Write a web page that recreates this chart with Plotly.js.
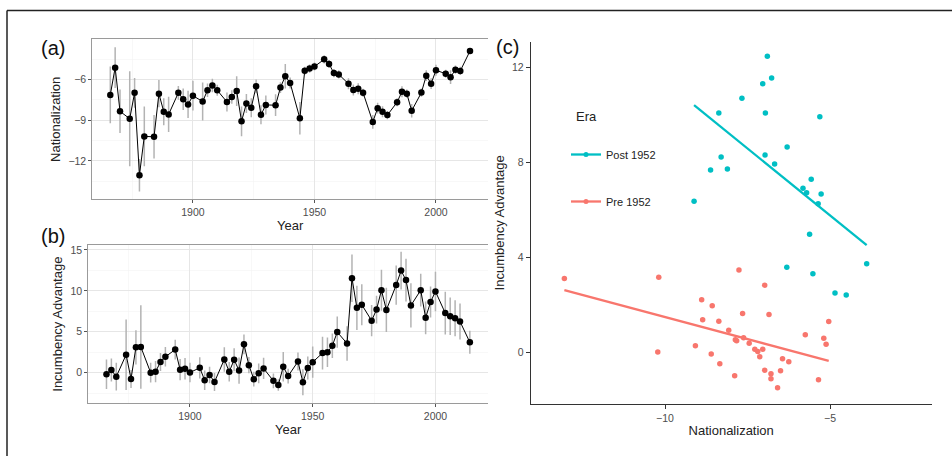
<!DOCTYPE html>
<html>
<head>
<meta charset="utf-8">
<script src="https://cdn.plot.ly/plotly-3.0.1.min.js"></script>
<style>html,body{margin:0;padding:0;background:#fff;}#chart{width:952px;height:456px;}</style>
</head>
<body>
<div id="chart"></div>
<script>
// ---- data ----
const years = [1866,1868,1870,1874,1876,1878,1880,1884,1886,1888,1890,1894,1896,1898,1900,
  1904,1906,1908,1910,1914,1916,1918,1920,1922,1924,1926,1928,1930,1934,1936,1938,1940,
  1944,1946,1948,1950,1954,1956,1958,1960,1964,1966,1968,1970,1974,1976,1978,1980,
  1984,1986,1988,1990,1994,1996,1998,2000,2004,2006,2008,2010,2014];

const nationalization = [-7.13,-5.12,-8.34,-8.89,-6.98,-13.05,-10.19,-10.22,-7.04,-8.37,-8.57,-6.98,-7.45,-7.83,-7.19,
  -7.62,-6.79,-6.44,-6.79,-7.65,-7.28,-6.85,-9.08,-7.76,-8.07,-6.50,-8.60,-7.87,-7.89,-6.59,-5.75,-6.25,
  -8.86,-5.35,-5.19,-5.04,-4.51,-4.85,-5.52,-5.62,-6.31,-6.77,-6.68,-6.97,-9.12,-8.11,-8.37,-8.62,
  -7.67,-6.90,-7.04,-8.30,-6.96,-5.71,-6.30,-5.31,-5.57,-5.82,-5.27,-5.36,-3.89];

const nationalizationErr = [2.1,1.5,1.6,3.5,1.1,1.2,2.2,1.6,1.0,1.0,1.3,0.5,0.8,1.0,1.1,
  1.4,0.5,0.5,0.4,0.7,0.5,1.1,1.1,0.7,0.7,0.5,0.7,0.7,0.8,0.4,0.9,0.4,
  1.2,0.3,0.3,0.3,0.3,0.3,0.3,0.3,0.4,0.4,0.4,0.3,0.5,0.4,0.4,0.3,
  0.3,0.4,0.3,0.5,0.3,0.4,0.4,0.4,0.3,0.5,0.3,0.3,0.2];

const incumbency = [-0.2,0.33,-0.49,2.2,-0.77,3.1,3.15,0.0,0.12,1.3,1.95,2.82,0.37,0.48,0.02,
  0.6,-0.92,-0.28,-1.13,1.62,0.12,1.58,0.26,3.46,0.92,-0.79,-0.08,0.52,-1.0,-1.5,0.73,-0.41,
  1.36,-1.17,0.58,1.29,2.4,2.49,3.3,4.96,3.57,11.55,7.93,8.3,6.36,7.71,10.07,7.67,
  10.7,12.47,11.31,8.22,10.08,6.71,8.64,9.92,7.28,6.9,6.66,6.25,3.72];

const incumbencyErr = [1.8,1.4,1.7,4.3,1.1,2.1,5.1,1.2,1.3,1.1,1.2,1.2,1.3,1.3,1.2,
  1.3,1.2,1.0,1.1,1.5,1.2,1.4,1.6,1.2,1.0,0.9,1.2,1.3,0.9,0.7,1.8,0.9,
  1.1,1.6,1.4,1.9,2.0,1.8,1.5,1.9,2.1,2.9,2.7,2.5,1.9,1.7,2.5,2.7,
  2.4,2.3,2.6,2.7,2.0,2.0,1.9,2.4,2.6,2.3,2.2,2.2,1.4];

const eraSplitYear = 1952;
const eraNames = ['Post 1952','Pre 1952'];
const eraColors = {'Post 1952':'#00BFC4','Pre 1952':'#F8766D'};

// ---- helpers ----
function lmLine(xs, ys){
  const n = xs.length;
  const mx = xs.reduce((a,b)=>a+b,0)/n, my = ys.reduce((a,b)=>a+b,0)/n;
  let sxy=0, sxx=0;
  for(let i=0;i<n;i++){ sxy+=(xs[i]-mx)*(ys[i]-my); sxx+=(xs[i]-mx)*(xs[i]-mx); }
  const b = sxy/sxx, a = my-b*mx;
  const x0 = Math.min(...xs), x1 = Math.max(...xs);
  return {x:[x0,x1], y:[a+b*x0, a+b*x1]};
}

const W = 952, H = 456;
const px = v => v/W;
const py = v => 1 - v/H;

const traces = [];
// panel (a)
traces.push({
  x: years, y: nationalization, type:'scatter', mode:'lines+markers',
  xaxis:'x', yaxis:'y', showlegend:false,
  line:{color:'#000', width:1},
  marker:{color:'#000', size:6.5},
  error_y:{type:'data', array:nationalizationErr, visible:true, color:'#b3b3b3', thickness:1.5, width:0}
});
// panel (b)
traces.push({
  x: years, y: incumbency, type:'scatter', mode:'lines+markers',
  xaxis:'x2', yaxis:'y2', showlegend:false,
  line:{color:'#000', width:1},
  marker:{color:'#000', size:6.5},
  error_y:{type:'data', array:incumbencyErr, visible:true, color:'#b3b3b3', thickness:1.5, width:0}
});
// panel (c)
eraNames.forEach(name=>{
  const xs=[], ys=[];
  years.forEach((yr,i)=>{
    const isPost = yr > eraSplitYear;
    if((name==='Post 1952')===isPost){ xs.push(nationalization[i]); ys.push(incumbency[i]); }
  });
  traces.push({x:xs, y:ys, type:'scatter', mode:'markers', xaxis:'x3', yaxis:'y3',
    showlegend:false, marker:{color:eraColors[name], size:5.5}});
  const f = lmLine(xs, ys);
  traces.push({x:f.x, y:f.y, type:'scatter', mode:'lines', xaxis:'x3', yaxis:'y3',
    showlegend:false, line:{color:eraColors[name], width:2.3}});
});
// legend entries
eraNames.forEach(name=>{
  traces.push({x:[null], y:[null], type:'scatter', mode:'lines+markers', xaxis:'x3', yaxis:'y3',
    name:name, legendgroup:name, showlegend:true,
    line:{color:eraColors[name], width:2.3}, marker:{color:eraColors[name], size:5}});
});

const tickFont = {size:10.5, color:'#4d4d4d', family:'Liberation Sans, Arial, sans-serif'};
const titleFont = {size:13, color:'#222', family:'Liberation Sans, Arial, sans-serif'};
const gridBW = {showgrid:true, gridcolor:'#e6e6e6', gridwidth:1, zeroline:false,
  ticks:'outside', ticklen:3, tickcolor:'#555', tickwidth:1, tickfont:tickFont,
  showline:true, linecolor:'#9a9a9a', linewidth:1};

const layout = {
  width:W, height:H, margin:{l:0,r:0,t:0,b:0},
  paper_bgcolor:'#fff', plot_bgcolor:'#fff',
  font:{family:'Liberation Sans, Arial, sans-serif', color:'#222'},
  showlegend:true,
  xaxis: Object.assign({}, gridBW, {domain:[px(92.3), px(488)], anchor:'y', range:[1858.6,2021.4],
    tick0:1900, dtick:50, mirror:true,
    minor:{dtick:25, showgrid:true, gridcolor:'#f3f3f3', gridwidth:0.6},
    title:{text:'Year', font:titleFont, standoff:1}}),
  yaxis: Object.assign({}, gridBW, {domain:[py(199.3), py(39.3)], anchor:'x', range:[-14.83,-3.03],
    tick0:0, dtick:3,
    minor:{dtick:1.5, showgrid:true, gridcolor:'#f3f3f3', gridwidth:0.6},
    title:{text:'Nationalization', font:titleFont, standoff:4}}),
  xaxis2: Object.assign({}, gridBW, {domain:[px(88.3), px(488)], anchor:'y2', range:[1858.6,2021.4],
    tick0:1900, dtick:50, mirror:true,
    minor:{dtick:25, showgrid:true, gridcolor:'#f3f3f3', gridwidth:0.6},
    title:{text:'Year', font:titleFont, standoff:1}}),
  yaxis2: Object.assign({}, gridBW, {domain:[py(403.3), py(245)], anchor:'x2', range:[-3.74,15.6],
    tick0:0, dtick:5,
    minor:{dtick:2.5, showgrid:true, gridcolor:'#f3f3f3', gridwidth:0.6},
    title:{text:'Incumbency Advantage', font:titleFont, standoff:4}}),
  xaxis3: {domain:[px(530.7), px(931.7)], anchor:'y3', range:[-14.07,-1.92], tick0:0, dtick:5,
    showgrid:false, zeroline:false, showline:true, linecolor:'#333', linewidth:1,
    ticks:'outside', ticklen:4, tickcolor:'#333', tickfont:tickFont,
    title:{text:'Nationalization', font:titleFont, standoff:3}},
  yaxis3: {domain:[py(404), py(41.7)], anchor:'x3', range:[-2.19,13.08], tick0:0, dtick:4,
    showgrid:false, zeroline:false, showline:true, linecolor:'#333', linewidth:1,
    ticks:'outside', ticklen:4, tickcolor:'#333', tickfont:tickFont,
    title:{text:'Incumbency Advantage', font:titleFont, standoff:4}},
  legend:{x:px(566), y:py(140), xanchor:'left', yanchor:'top', bgcolor:'rgba(0,0,0,0)',
    font:{size:11, color:'#222'},
    traceorder:'grouped', tracegroupgap:28},
  annotations:[
    {text:'Era', xref:'paper', yref:'paper', x:px(574), y:py(117), xanchor:'left', yanchor:'middle', showarrow:false, font:{size:13, color:'#222'}},
    {text:'(a)', xref:'paper', yref:'paper', x:px(39), y:py(48), xanchor:'left', yanchor:'middle', showarrow:false, font:{size:20, color:'#111'}},
    {text:'(b)', xref:'paper', yref:'paper', x:px(39), y:py(236), xanchor:'left', yanchor:'middle', showarrow:false, font:{size:20, color:'#111'}},
    {text:'(c)', xref:'paper', yref:'paper', x:px(494), y:py(47), xanchor:'left', yanchor:'middle', showarrow:false, font:{size:20, color:'#111'}}
  ],
  shapes:[
    {type:'line', xref:'paper', yref:'paper', x0:px(7), x1:1, y0:py(10.5), y1:py(10.5), line:{color:'#222', width:1.5}},
    {type:'line', xref:'paper', yref:'paper', x0:px(7), x1:px(7), y0:py(10.5), y1:0, line:{color:'#222', width:1.5}}
  ]
};

Plotly.newPlot('chart', traces, layout, {displayModeBar:false, staticPlot:true});
</script>
</body>
</html>
